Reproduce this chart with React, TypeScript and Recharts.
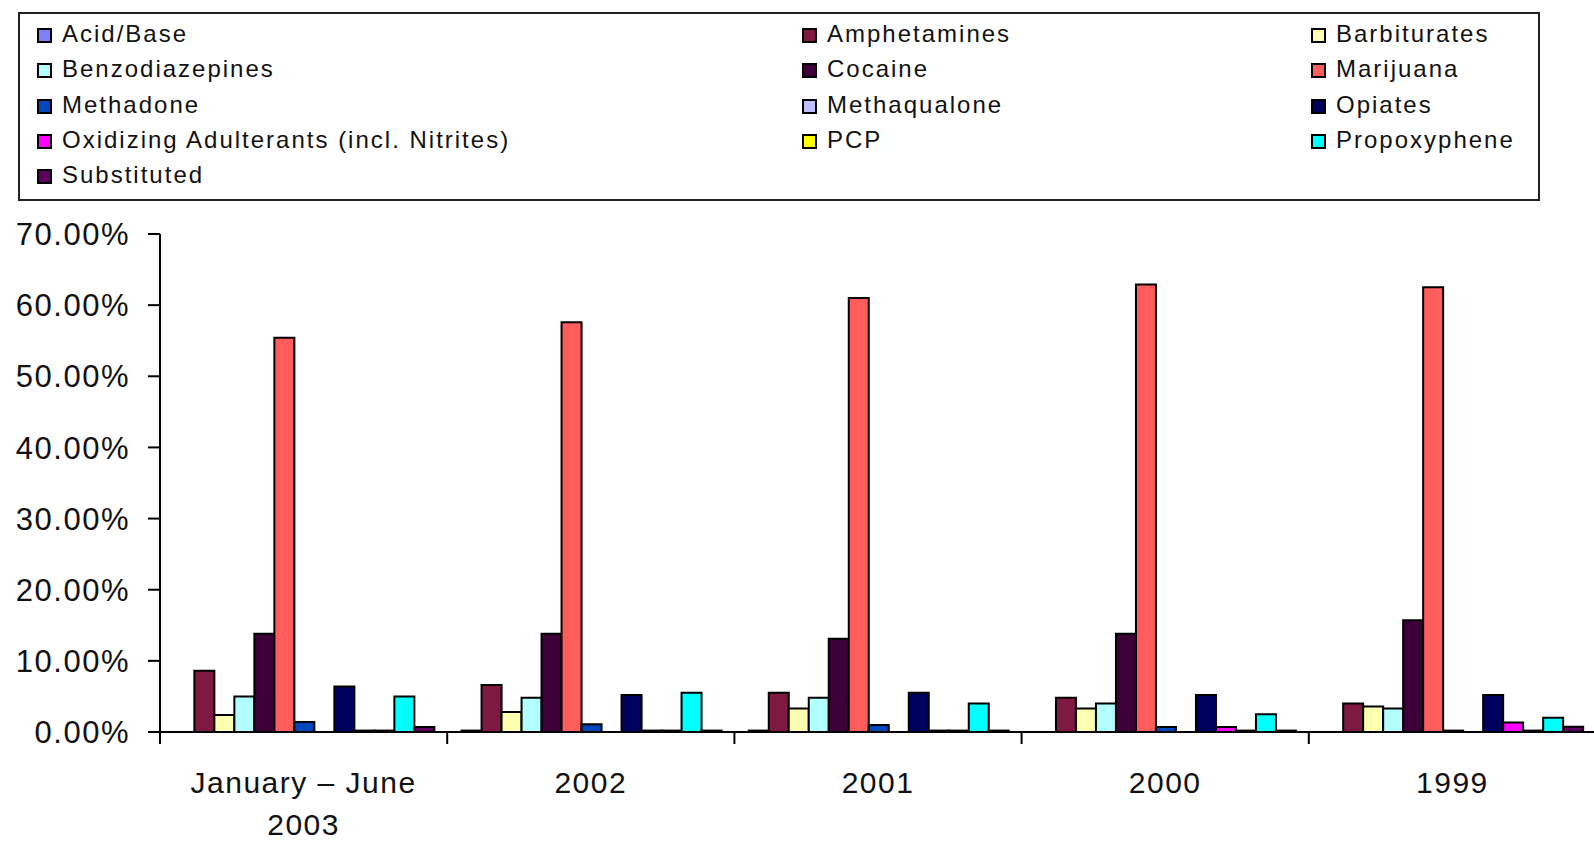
import React from "react";
import { BarChart, Bar, XAxis, YAxis } from "recharts";

const categories = ["January – June 2003", "2002", "2001", "2000", "1999"];

const acidBase = [0, 0.2, 0.2, 0, 0];
const amphetamines = [8.6, 6.6, 5.5, 4.8, 4.0];
const barbiturates = [2.4, 2.8, 3.3, 3.3, 3.6];
const benzodiazepines = [5.0, 4.8, 4.8, 4.0, 3.3];
const cocaine = [13.8, 13.8, 13.1, 13.8, 15.7];
const marijuana = [55.4, 57.6, 61.0, 62.9, 62.5];
const methadone = [1.4, 1.1, 1.0, 0.7, 0.2];
const methaqualone = [0, 0, 0, 0, 0];
const opiates = [6.4, 5.2, 5.5, 5.2, 5.2];
const oxidizing = [0.2, 0.2, 0.2, 0.7, 1.35];
const pcp = [0.2, 0.2, 0.2, 0.2, 0.2];
const propoxyphene = [5.0, 5.5, 4.0, 2.5, 2.0];
const substituted = [0.7, 0.2, 0.2, 0.2, 0.75];

const yTicks = [0, 10, 20, 30, 40, 50, 60, 70];

const series = [
  { key: "acid", name: "Acid/Base", values: acidBase, color: "#8080FF" },
  { key: "amph", name: "Amphetamines", values: amphetamines, color: "#7E1A42" },
  { key: "barb", name: "Barbiturates", values: barbiturates, color: "#FFFFB0" },
  { key: "benzo", name: "Benzodiazepines", values: benzodiazepines, color: "#B3FFFF" },
  { key: "coca", name: "Cocaine", values: cocaine, color: "#3D0038" },
  { key: "mari", name: "Marijuana", values: marijuana, color: "#FF5C5C" },
  { key: "meth", name: "Methadone", values: methadone, color: "#0047BB" },
  { key: "methq", name: "Methaqualone", values: methaqualone, color: "#BFBFFF" },
  { key: "opi", name: "Opiates", values: opiates, color: "#00005E" },
  { key: "oxi", name: "Oxidizing Adulterants (incl. Nitrites)", values: oxidizing, color: "#FF00FF" },
  { key: "pcp", name: "PCP", values: pcp, color: "#FFFF00" },
  { key: "prop", name: "Propoxyphene", values: propoxyphene, color: "#00FFFF" },
  { key: "subs", name: "Substituted", values: substituted, color: "#5E0060" },
];

const data = categories.map((c, i) => {
  const row: Record<string, any> = { name: c };
  series.forEach((s) => {
    row[s.key] = s.values[i];
  });
  return row;
});

const FONT = "'Liberation Sans', Arial, Helvetica, sans-serif";
const CHART_W = 1596;
const Y_AXIS_W = 160;
const BAND = (CHART_W - Y_AXIS_W) / categories.length;

const YTick = (props: any) => {
  const { x, y, payload } = props;
  return (
    <text
      x={x}
      y={y}
      dy="0.36em"
      textAnchor="end"
      fontFamily={FONT}
      fontSize={31}
      letterSpacing={1.5}
      fill="#111"
    >
      {`${Number(payload.value).toFixed(2)}%`}
    </text>
  );
};

const XTick = (props: any) => {
  const { x, y, payload } = props;
  const label: string = String(payload.value);
  const words = label.split(" ");
  const lines = label.length > 10 ? [words.slice(0, -1).join(" "), words[words.length - 1]] : [label];
  const bx = x - BAND / 2;
  return (
    <g>
      <line x1={bx} y1={y} x2={bx} y2={y + 12} stroke="#000" strokeWidth={2} />
      {lines.map((ln, i) => (
        <text
          key={i}
          x={x}
          y={y + 61 + i * 42}
          textAnchor="middle"
          fontFamily={FONT}
          fontSize={30}
          letterSpacing={1.5}
          fill="#111"
        >
          {ln}
        </text>
      ))}
    </g>
  );
};

const colX = [37, 802, 1311];
const rowY = [33.5, 68.5, 104.5, 140, 175];

export default function App() {
  return (
    <div
      style={{
        position: "absolute",
        left: 0,
        top: 0,
        width: 1594,
        height: 842,
        overflow: "hidden",
        background: "#fff",
      }}
    >
      <div
        style={{
          position: "absolute",
          left: 18,
          top: 12,
          width: 1522,
          height: 189,
          boxSizing: "border-box",
          border: "2px solid #222",
        }}
      />
      {series.map((s, i) => {
        const col = i % 3;
        const row = Math.floor(i / 3);
        return (
          <div
            key={s.key}
            style={{
              position: "absolute",
              left: colX[col],
              top: rowY[row] - 15,
              height: 30,
              display: "flex",
              alignItems: "center",
              fontFamily: FONT,
              fontSize: 24,
              letterSpacing: 2,
              color: "#111",
              whiteSpace: "nowrap",
            }}
          >
            <span
              style={{
                display: "inline-block",
                width: 15,
                height: 15,
                boxSizing: "border-box",
                border: "2px solid #000",
                background: s.color,
                marginRight: 10,
                marginTop: 3,
              }}
            />
            <span>{s.name}</span>
          </div>
        );
      })}
      <BarChart
        width={CHART_W}
        height={842}
        data={data}
        margin={{ top: 234, right: 0, left: 0, bottom: 10 }}
        barCategoryGap="5%"
        barGap={0}
      >
        <XAxis
          dataKey="name"
          height={100}
          interval={0}
          tickLine={false}
          tickSize={0}
          tickMargin={0}
          axisLine={{ stroke: "#000", strokeWidth: 2 }}
          tick={<XTick />}
        />
        <YAxis
          width={Y_AXIS_W}
          domain={[0, 70]}
          ticks={yTicks}
          interval={0}
          tickSize={12}
          tickMargin={18}
          axisLine={{ stroke: "#000", strokeWidth: 2 }}
          tickLine={{ stroke: "#000", strokeWidth: 2 }}
          tick={<YTick />}
        />
        {series.map((s) => (
          <Bar
            key={s.key}
            dataKey={s.key}
            name={s.name}
            fill={s.color}
            stroke="#000"
            strokeWidth={2}
            isAnimationActive={false}
          />
        ))}
      </BarChart>
    </div>
  );
}
